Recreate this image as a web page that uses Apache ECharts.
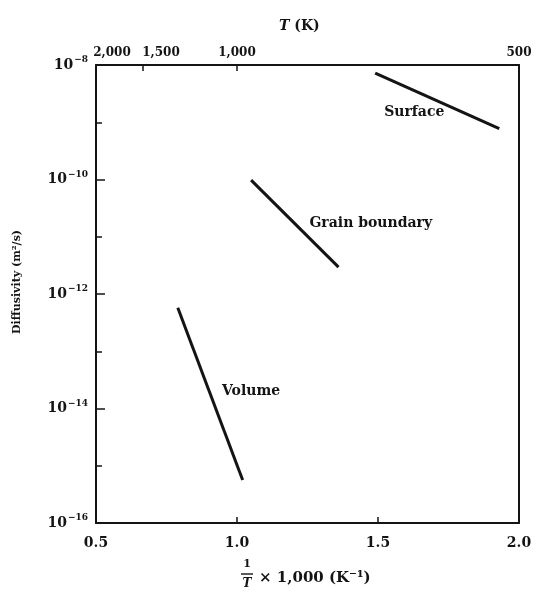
<!DOCTYPE html>
<html><head><meta charset="utf-8">
<script src="https://cdn.jsdelivr.net/npm/echarts@6/dist/echarts.min.js"></script>
<style>html,body{margin:0;padding:0;background:#fff}#c{width:536px;height:597px}</style>
</head><body><div id="c"></div>
<script>
// Data: x = 1000/T (1/K), y = log10 of diffusivity (m^2/s)
const surfaceX = [1.49, 1.93];
const surfaceLogD = [-8.14, -9.11];
const grainX = [1.05, 1.36];
const grainLogD = [-10.01, -11.53];
const volumeX = [0.79, 1.02];
const volumeLogD = [-12.24, -15.25];
const labelNames = ['Surface', 'Grain boundary', 'Volume'];
const labelX = [1.52, 1.255, 0.945];
const labelLogD = [-8.83, -10.76, -13.7];
const topTempK = [2000, 1500, 1000, 500];

const FONT = 'DejaVu Serif';
const INK = '#141414';
const chart = echarts.init(document.getElementById('c'));
const pair = (xs, ys) => xs.map((x, i) => [x, ys[i]]);
const topPad = {2000: 32, 1500: 36, 1000: 0, 500: 0};
const topRich = {};
topTempK.forEach(t => {
  topRich['a' + t] = {fontFamily: FONT, fontSize: 12, fontWeight: 'bold', color: INK,
    padding: [0, 0, 0, topPad[t]]};
});

chart.setOption({
  animation: false,
  backgroundColor: '#fff',
  grid: {left: 96, right: 17, top: 65, bottom: 74},
  xAxis: [{
    type: 'value', min: 0.5, max: 2.0, interval: 0.5, position: 'bottom',
    axisLine: {lineStyle: {color: INK, width: 2}},
    axisTick: {inside: true, length: 6, lineStyle: {color: INK, width: 1.5}},
    axisLabel: {color: INK, fontFamily: FONT, fontSize: 14, fontWeight: 'bold', margin: 13,
      formatter: v => v.toFixed(1)},
    splitLine: {show: false}
  }, {
    type: 'value', min: 0.5, max: 2.0, position: 'top',
    axisLine: {lineStyle: {color: INK, width: 2}},
    axisTick: {inside: true, length: 6, lineStyle: {color: INK, width: 1.5},
      customValues: topTempK.map(t => 1000 / t)},
    axisLabel: {color: INK, fontFamily: FONT, fontSize: 12, fontWeight: 'bold', margin: 6,
      customValues: topTempK.map(t => 1000 / t),
      formatter: v => {
        const t = Math.round(1000 / v);
        const s = t >= 1000 ? (Math.floor(t / 1000) + ',' + String(t % 1000).padStart(3, '0')) : String(t);
        return '{a' + t + '|' + s + '}';
      },
      rich: topRich},
    splitLine: {show: false}
  }],
  yAxis: [{
    type: 'value', min: -16, max: -8, interval: 2, position: 'left',
    name: 'Diffusivity (m²/s)', nameLocation: 'middle', nameGap: 73,
    nameTextStyle: {color: INK, fontFamily: FONT, fontSize: 11, fontWeight: 'bold', padding: [0, 0, 0, 24]},
    axisLine: {lineStyle: {color: INK, width: 2}},
    axisTick: {inside: true, length: 9, lineStyle: {color: INK, width: 1.5}},
    minorTick: {show: true, splitNumber: 2, length: 6, lineStyle: {color: INK, width: 1.5}},
    axisLabel: {color: INK, margin: 8,
      formatter: v => '{b|10}{s|' + String(v).replace('-', '−') + '}',
      rich: {
        b: {fontFamily: FONT, fontSize: 14, fontWeight: 'bold', color: INK},
        s: {fontFamily: FONT, fontSize: 9, fontWeight: 'bold', color: INK, padding: [0, 0, 10, 1]}
      }},
    splitLine: {show: false}
  }, {
    type: 'value', min: -16, max: -8, position: 'right',
    axisLine: {show: true, lineStyle: {color: INK, width: 2}},
    axisTick: {show: false}, axisLabel: {show: false}, splitLine: {show: false}
  }],
  series: [
    {type: 'line', data: pair(surfaceX, surfaceLogD), symbol: 'none', lineStyle: {color: INK, width: 3}},
    {type: 'line', data: pair(grainX, grainLogD), symbol: 'none', lineStyle: {color: INK, width: 3}},
    {type: 'line', data: pair(volumeX, volumeLogD), symbol: 'none', lineStyle: {color: INK, width: 3}},
    {type: 'scatter', symbolSize: 1, silent: true, itemStyle: {opacity: 0},
      data: labelNames.map((n, i) => ({name: n, value: [labelX[i], labelLogD[i]]})),
      label: {show: true, position: 'right', distance: 0, formatter: p => p.name, opacity: 1,
        color: INK, fontFamily: FONT, fontSize: 14, fontWeight: 'bold'}}
  ],
  graphic: [
    {type: 'text', left: 279, top: 19,
      style: {text: '{i|T} (K)', font: 'bold 14px "DejaVu Serif"', fill: INK,
        rich: {i: {fontStyle: 'italic', fontFamily: FONT, fontSize: 14, fontWeight: 'bold', fill: INK}}}},
    {type: 'text', x: 247, y: 564,
      style: {text: '1', font: 'bold 11px "DejaVu Serif"', fill: INK, align: 'center', verticalAlign: 'middle'}},
    {type: 'line', shape: {x1: 241, y1: 574, x2: 253, y2: 574}, style: {stroke: INK, lineWidth: 1.4}},
    {type: 'text', x: 247, y: 584,
      style: {text: 'T', font: 'italic bold 12px "DejaVu Serif"', fill: INK, align: 'center', verticalAlign: 'middle'}},
    {type: 'text', x: 259, y: 578,
      style: {text: '× 1,000 (K⁻¹)', font: 'bold 15px "DejaVu Serif"', fill: INK, align: 'left', verticalAlign: 'middle'}}
  ]
});
</script></body></html>
